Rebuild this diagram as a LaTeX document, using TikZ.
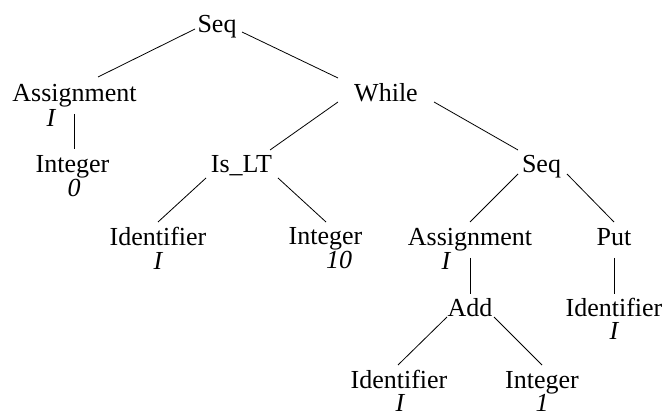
\documentclass[tikz,border=0pt]{standalone}
\usepackage{fontspec}
\setmainfont{Liberation Serif}
\begin{document}
\begin{tikzpicture}[x=1pt,y=-1pt,
  tn/.style={anchor=base,inner sep=0pt,font=\fontsize{26}{30}\selectfont},
  lab/.style={anchor=base,inner sep=0pt,font=\fontsize{26}{30}\selectfont\itshape},
  conn/.style={draw=black,line width=0.8pt}]
\useasboundingbox (0,0) rectangle (665,414);
% nodes
\node[tn] (seqA) at (217,33) {Seq};
\node[tn] (asgA) at (74.5,102) {Assignment};
\node[lab] (asgAl) at (51,127) {I};
\node[tn] (intA) at (72.5,173) {Integer};
\node[lab] (intAl) at (74,197) {0};
\node[tn] (while) at (386,102) {While};
\node[tn] (islt) at (241.5,173) {Is\_LT};
\node[tn] (seqB) at (541.5,173) {Seq};
\node[tn] (idA) at (158,246) {Identifier};
\node[lab] (idAl) at (158,270) {I};
\node[tn] (intB) at (325.5,245) {Integer};
\node[lab] (intBl) at (339,269) {10};
\node[tn] (asgB) at (470,246) {Assignment};
\node[lab] (asgBl) at (446,270) {I};
\node[tn] (put) at (614,246) {Put};
\node[tn] (add) at (470,317) {Add};
\node[tn] (idB) at (614,317) {Identifier};
\node[lab] (idBl) at (614,340) {I};
\node[tn] (idC) at (399,389) {Identifier};
\node[lab] (idCl) at (400,412) {I};
\node[tn] (intC) at (542,389) {Integer};
\node[lab] (intCl) at (542,412) {1};
% connectors
\draw[conn] ([shift={(-22,-4)}]seqA.base) -- ([shift={(23.5,-25)}]asgA.base);
\draw[conn] ([shift={(25,-1)}]seqA.base) -- ([shift={(-48,-24)}]while.base);
\draw[conn] ([shift={(-0.5,12)}]asgA.base) -- ([shift={(1.5,-24)}]intA.base);
\draw[conn] ([shift={(-48,0)}]while.base) -- ([shift={(28.5,-23)}]islt.base);
\draw[conn] ([shift={(48,0)}]while.base) -- ([shift={(-23.5,-23)}]seqB.base);
\draw[conn] ([shift={(-35.5,5)}]islt.base) -- ([shift={(0,-24)}]idA.base);
\draw[conn] ([shift={(36.5,5)}]islt.base) -- ([shift={(0.5,-23)}]intB.base);
\draw[conn] ([shift={(-23.5,1)}]seqB.base) -- ([shift={(0,-24)}]asgB.base);
\draw[conn] ([shift={(25.5,1)}]seqB.base) -- ([shift={(0,-24)}]put.base);
\draw[conn] ([shift={(0,12)}]asgB.base) -- ([shift={(0,-23)}]add.base);
\draw[conn] ([shift={(0,12)}]put.base) -- ([shift={(0,-23)}]idB.base);
\draw[conn] ([shift={(-23,0)}]add.base) -- ([shift={(-1,-24)}]idC.base);
\draw[conn] ([shift={(24,0)}]add.base) -- ([shift={(0,-24)}]intC.base);
\end{tikzpicture}
\end{document}
